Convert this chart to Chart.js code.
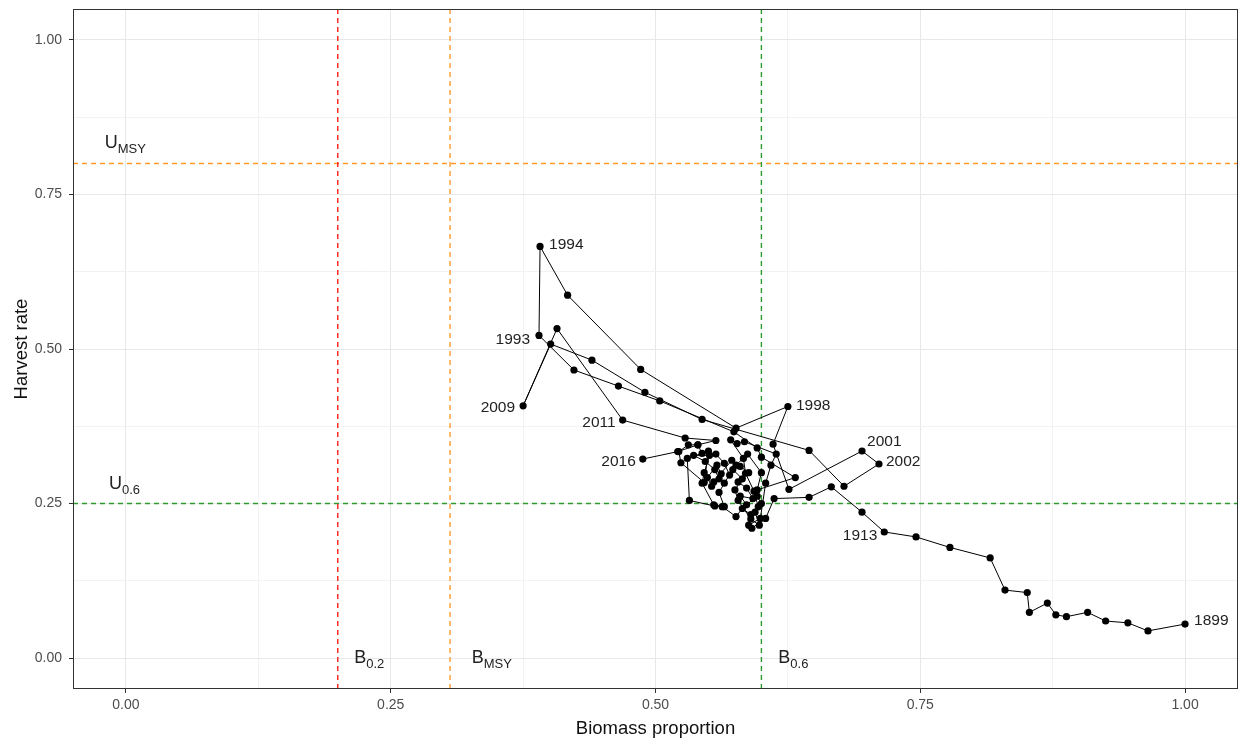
<!DOCTYPE html>
<html>
<head>
<meta charset="utf-8">
<script src="https://cdn.jsdelivr.net/npm/chart.js@4.4.1/dist/chart.umd.min.js"></script>
<style>
  html, body { margin: 0; background: #fff; overflow: hidden; }
  #wrap { width: 1238px; height: 740px; }
  canvas { display: block; }
</style>
</head>
<body>
<div id="wrap"><canvas id="kobe"></canvas></div>
<script>
// trajectory, one entry per year
const years = [
  1899,1900,1901,1902,1903,1904,1905,1906,1907,1908,
  1909,1910,1911,1912,1913,1914,1915,1916,1917,1918,
  1919,1920,1921,1922,1923,1924,1925,1926,1927,1928,
  1929,1930,1931,1932,1933,1934,1935,1936,1937,1938,
  1939,1940,1941,1942,1943,1944,1945,1946,1947,1948,
  1949,1950,1951,1952,1953,1954,1955,1956,1957,1958,
  1959,1960,1961,1962,1963,1964,1965,1966,1967,1968,
  1969,1970,1971,1972,1973,1974,1975,1976,1977,1978,
  1979,1980,1981,1982,1983,1984,1985,1986,1987,1988,
  1989,1990,1991,1992,1993,1994,1995,1996,1997,1998,
  1999,2000,2001,2002,2003,2004,2005,2006,2007,2008,
  2009,2010,2011,2012,2013,2014,2015,2016
];
const biomass = [
  1.000,0.965,0.946,0.925,0.908,0.888,0.878,0.870,0.853,0.851,
  0.830,0.816,0.778,0.746,0.716,0.695,0.666,0.645,0.612,0.604,
  0.591,0.588,0.599,0.604,0.609,0.614,0.584,0.577,0.571,0.583,
  0.585,0.593,0.597,0.590,0.582,0.576,0.563,0.555,0.544,0.546,
  0.551,0.536,0.547,0.556,0.560,0.553,0.549,0.558,0.562,0.555,
  0.572,0.580,0.588,0.578,0.586,0.592,0.580,0.586,0.596,0.600,
  0.594,0.598,0.590,0.578,0.575,0.582,0.573,0.565,0.560,0.565,
  0.556,0.532,0.530,0.550,0.546,0.524,0.522,0.531,0.540,0.544,
  0.557,0.565,0.570,0.576,0.587,0.600,0.596,0.632,0.600,0.596,
  0.574,0.504,0.465,0.423,0.390,0.391,0.417,0.486,0.576,0.625,
  0.611,0.626,0.695,0.711,0.678,0.645,0.544,0.490,0.440,0.401,
  0.375,0.407,0.469,0.528,0.557,0.540,0.521,0.488
];
const harvest = [
  0.055,0.044,0.057,0.060,0.074,0.067,0.070,0.089,0.074,0.106,
  0.110,0.162,0.179,0.196,0.204,0.236,0.277,0.260,0.258,0.226,
  0.210,0.215,0.226,0.283,0.312,0.330,0.350,0.347,0.353,0.323,
  0.299,0.270,0.245,0.232,0.242,0.229,0.245,0.248,0.283,0.300,
  0.328,0.328,0.318,0.305,0.290,0.278,0.292,0.312,0.298,0.285,
  0.320,0.310,0.300,0.285,0.275,0.258,0.262,0.248,0.262,0.250,
  0.236,0.215,0.225,0.255,0.272,0.290,0.305,0.283,0.268,0.245,
  0.246,0.255,0.323,0.335,0.284,0.316,0.334,0.345,0.345,0.331,
  0.330,0.315,0.296,0.312,0.330,0.300,0.272,0.292,0.325,0.340,
  0.366,0.416,0.440,0.466,0.522,0.666,0.587,0.467,0.372,0.407,
  0.346,0.273,0.335,0.314,0.278,0.336,0.386,0.430,0.482,0.508,
  0.408,0.533,0.385,0.356,0.352,0.345,0.334,0.322
];
const labelledYears = [1899, 1913, 1993, 1994, 1998, 2001, 2002, 2009, 2011, 2016];

// reference points
const bRefNames = ['0.2', 'MSY', '0.6'];
const bRefValues = [0.2, 0.306, 0.6];
const uRefNames = ['MSY', '0.6'];
const uRefValues = [0.8, 0.25];

const majorTicks = [0, 0.25, 0.5, 0.75, 1];
const minorTicks = [0.125, 0.375, 0.625, 0.875];
const lo = -0.05, hi = 1.05;

const refColours = { '0.2': '#ff1c1c', 'MSY': '#ff9a28', '0.6': '#2f9a2f' };

// where each year label sits next to its point (px), and alignment
const yearLabelOffset = {
  1899: [9, -3, 'left'],  1913: [-7, 4, 'right'], 1993: [-9, 4, 'right'],
  1994: [9, -2, 'left'],  1998: [8, -1, 'left'],  2001: [5, -9, 'left'],
  2002: [7, -2, 'left'],  2009: [-8, 2, 'right'], 2011: [-7, 3, 'right'],
  2016: [-7, 3, 'right']
};
// reference text placement in data units (left edge of letter, vertical middle)
const refTextPos = [
  { main: 'U', sub: 'MSY', x: -0.020, y: 0.833 },
  { main: 'U', sub: '0.6', x: -0.016, y: 0.281 },
  { main: 'B', sub: '0.2', x: 0.2155, y: 0.0 },
  { main: 'B', sub: 'MSY', x: 0.3265, y: 0.0 },
  { main: 'B', sub: '0.6', x: 0.6160, y: 0.0 }
];

const points = biomass.map((b, i) => ({ x: b, y: harvest[i] }));

const refSets = [];
bRefValues.forEach((v, i) => refSets.push({
  data: [{ x: v, y: lo }, { x: v, y: hi }],
  borderColor: refColours[bRefNames[i]], borderWidth: 1.4, borderDash: [5, 4],
  pointRadius: 0, showLine: true
}));
uRefValues.forEach((v, i) => refSets.push({
  data: [{ x: lo, y: v }, { x: hi, y: v }],
  borderColor: refColours[uRefNames[i]], borderWidth: 1.4, borderDash: [5, 4],
  pointRadius: 0, showLine: true
}));

const FONT = '"Liberation Sans", Arial, sans-serif';
Chart.defaults.font.family = FONT;

const gridCfg = {
  color: c => minorTicks.includes(c.tick.value) ? '#f2f2f2' : '#e8e8e8',
  lineWidth: 1,
  tickLength: 4,
  tickColor: c => minorTicks.includes(c.tick.value) ? 'rgba(0,0,0,0)' : '#333333'
};
const allTicks = () => majorTicks.concat(minorTicks).sort((a, b) => a - b).map(v => ({ value: v }));
const tickLabel = v => majorTicks.includes(v) ? v.toFixed(2) : '';
const noPad = s => { s.paddingLeft = 0; s.paddingRight = 0; s.paddingTop = 0; s.paddingBottom = 0; };

const overlay = {
  id: 'overlay',
  afterDatasetsDraw(chart) {
    const { ctx, chartArea: a, scales } = chart;
    const xs = scales.x, ys = scales.y;
    ctx.save();
    // year labels
    const meta = chart.getDatasetMeta(0);
    ctx.font = '15.5px ' + FONT;
    ctx.fillStyle = '#222';
    ctx.textBaseline = 'middle';
    labelledYears.forEach(yr => {
      const el = meta.data[years.indexOf(yr)];
      const [dx, dy, al] = yearLabelOffset[yr];
      ctx.textAlign = al;
      ctx.fillText(String(yr), el.x + dx, el.y + dy);
    });
    // reference labels
    ctx.textAlign = 'left';
    refTextPos.forEach(t => {
      const px = xs.getPixelForValue(t.x), py = ys.getPixelForValue(t.y);
      ctx.font = '18px ' + FONT;
      ctx.textBaseline = 'middle';
      ctx.fillStyle = '#222';
      ctx.fillText(t.main, px, py);
      const w = ctx.measureText(t.main).width;
      ctx.font = '13px ' + FONT;
      ctx.fillText(t.sub, px + w, py + 6);
    });
    // panel border
    ctx.strokeStyle = '#333';
    ctx.lineWidth = 1;
    ctx.strokeRect(a.left + 0.5, a.top + 0.5, a.right - a.left - 1, a.bottom - a.top - 1);
    ctx.restore();
  }
};

new Chart(document.getElementById('kobe'), {
  type: 'scatter',
  data: {
    datasets: [{
      data: points,
      showLine: true,
      borderColor: '#000',
      borderWidth: 1,
      backgroundColor: '#000',
      pointRadius: 3.6,
      pointBorderWidth: 0,
      tension: 0
    }].concat(refSets)
  },
  options: {
    responsive: true,
    maintainAspectRatio: false,
    animation: false,
    layout: { autoPadding: false, padding: { top: 9, right: 0, left: 0, bottom: 0 } },
    plugins: { legend: { display: false }, tooltip: { enabled: false } },
    scales: {
      x: {
        type: 'linear', min: lo, max: hi,
        afterBuildTicks: s => { s.ticks = allTicks(); },
        afterFit: s => { s.height = 51; noPad(s); },
        grid: gridCfg,
        border: { display: false },
        ticks: { callback: tickLabel, color: '#4d4d4d', font: { size: 14 }, padding: 4, maxRotation: 0, autoSkip: false },
        title: { display: true, text: 'Biomass proportion', color: '#111', font: { size: 18.5 }, padding: { top: 0, bottom: 0 } }
      },
      y: {
        type: 'linear', min: lo, max: hi,
        afterBuildTicks: s => { s.ticks = allTicks(); },
        afterFit: s => { s.width = 73; noPad(s); },
        grid: gridCfg,
        border: { display: false },
        ticks: { callback: tickLabel, color: '#4d4d4d', font: { size: 14 }, padding: 7, autoSkip: false },
        title: { display: true, text: 'Harvest rate', color: '#111', font: { size: 18.5 }, padding: { top: 11, bottom: 0 } }
      }
    }
  },
  plugins: [overlay]
});
</script>
</body>
</html>
